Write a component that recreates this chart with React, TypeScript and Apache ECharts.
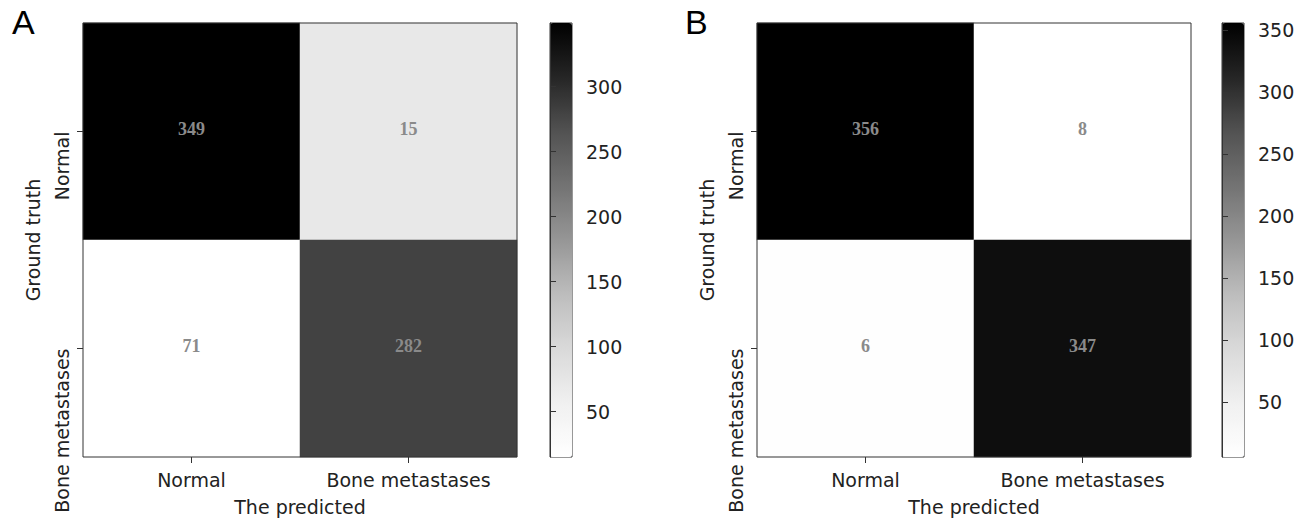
import React, { useEffect, useRef } from "react";
import * as echarts from "echarts";

// Categories (rows = ground truth, columns = predicted)
const categories: string[] = ["Normal", "Bone metastases"];

// Panel A: counts shown in cells
const countsA: number[][] = [
  [349, 15],
  [71, 282],
];
// Panel A: shade of each cell (on the colorbar's scale)
const shadeA: number[][] = [
  [349, 71],
  [15, 280],
];

// Panel B
const countsB: number[][] = [
  [356, 8],
  [6, 347],
];
const shadeB: number[][] = [
  [356, 6],
  [8, 340],
];

// Colorbar ranges and ticks
const rangeA: [number, number] = [15, 349];
const rangeB: [number, number] = [6, 356];
const ticksA: number[] = [50, 100, 150, 200, 250, 300];
const ticksB: number[] = [50, 100, 150, 200, 250, 300, 350];

const greys = [
  "#ffffff",
  "#f0f0f0",
  "#d9d9d9",
  "#bdbdbd",
  "#969696",
  "#737373",
  "#525252",
  "#252525",
  "#000000",
];

const FONT = "DejaVu Sans";
const TEXT_COLOR = "#222222";

function cells(counts: number[][], shade: number[][]) {
  const out: number[][] = [];
  for (let r = 0; r < counts.length; r++) {
    for (let c = 0; c < counts[r].length; c++) {
      out.push([c, r, counts[r][c], shade[r][c]]);
    }
  }
  return out;
}

export default function App() {
  const ref = useRef<HTMLDivElement>(null);

  useEffect(() => {
    if (!ref.current) return;
    const chart = echarts.init(ref.current, undefined, { renderer: "svg" });

    const heatGrid = (left: number) => ({
      left,
      top: 23,
      width: 434,
      height: 434,
      show: true,
      z: 3,
      outerBoundsMode: "none",
      containLabel: false,
      backgroundColor: "transparent",
      borderColor: "#333333",
      borderWidth: 1,
    });
    const barGrid = (left: number) => ({
      left,
      top: 23,
      width: 22,
      height: 434,
      show: true,
      z: 3,
      outerBoundsMode: "none",
      containLabel: false,
      backgroundColor: "transparent",
      borderColor: "#333333",
      borderWidth: 1,
    });

    const catX = (gridIndex: number) => ({
      type: "category",
      gridIndex,
      data: categories,
      z: 4,
      axisLine: { show: false },
      axisTick: { show: true, alignWithLabel: true, length: 6, lineStyle: { color: "#333" } },
      axisLabel: { fontSize: 19, color: TEXT_COLOR, fontFamily: FONT, margin: 13 },
      splitLine: { show: false },
      name: "The predicted",
      nameLocation: "middle",
      nameGap: 40,
      nameTextStyle: { fontSize: 19, color: TEXT_COLOR, fontFamily: FONT },
    });
    const catY = (gridIndex: number) => ({
      type: "category",
      gridIndex,
      data: categories,
      inverse: true,
      z: 4,
      axisLine: { show: false },
      axisTick: { show: true, alignWithLabel: true, length: 6, lineStyle: { color: "#333" } },
      axisLabel: {
        fontSize: 19,
        color: TEXT_COLOR,
        fontFamily: FONT,
        rotate: 90,
        align: "right",
        verticalAlign: "bottom",
        margin: 12,
        hideOverlap: false,
      },
      splitLine: { show: false },
      name: "Ground truth",
      nameLocation: "middle",
      nameRotate: 90,
      nameGap: 41,
      nameTextStyle: { fontSize: 19, color: TEXT_COLOR, fontFamily: FONT },
    });
    const barX = (gridIndex: number) => ({
      type: "value",
      gridIndex,
      show: false,
      min: 0,
      max: 1,
    });
    const barY = (gridIndex: number, range: [number, number], ticks: number[]) => ({
      type: "value",
      gridIndex,
      position: "right",
      min: range[0],
      max: range[1],
      z: 4,
      axisLine: { show: true, lineStyle: { color: "#333", width: 1 } },
      splitLine: { show: false },
      axisTick: {
        show: true,
        inside: false,
        length: 6,
        customValues: ticks,
        lineStyle: { color: "#333", width: 1 },
      },
      axisLabel: {
        show: true,
        customValues: ticks,
        fontSize: 19,
        color: TEXT_COLOR,
        fontFamily: FONT,
        margin: 14,
      },
    });

    const cellLabel = {
      show: true,
      formatter: (p: any) => String(p.value[2]),
      fontFamily: "Liberation Serif",
      fontWeight: "bold",
      fontSize: 18,
      color: "#8a8a8a",
      offset: [0, -3],
    };

    const option: any = {
      animation: false,
      backgroundColor: "#ffffff",
      textStyle: { fontFamily: FONT },
      grid: [heatGrid(83), barGrid(550), heatGrid(757), barGrid(1222)],
      xAxis: [catX(0), barX(1), catX(2), barX(3)],
      yAxis: [catY(0), barY(1, rangeA, ticksA), catY(2), barY(3, rangeB, ticksB)],
      visualMap: [
        {
          type: "continuous",
          seriesIndex: 0,
          dimension: 3,
          min: rangeA[0],
          max: rangeA[1],
          inRange: { color: greys },
          left: 550,
          top: 23,
          itemWidth: 22,
          itemHeight: 434,
          padding: 0,
          calculable: false,
          realtime: false,
          hoverLink: false,
        },
        {
          type: "continuous",
          seriesIndex: 1,
          dimension: 3,
          min: rangeB[0],
          max: rangeB[1],
          inRange: { color: greys },
          left: 1222,
          top: 23,
          itemWidth: 22,
          itemHeight: 434,
          padding: 0,
          calculable: false,
          realtime: false,
          hoverLink: false,
        },
      ],
      series: [
        {
          type: "heatmap",
          xAxisIndex: 0,
          yAxisIndex: 0,
          data: cells(countsA, shadeA),
          label: cellLabel,
          itemStyle: { borderWidth: 0 },
          emphasis: { disabled: true },
        },
        {
          type: "heatmap",
          xAxisIndex: 2,
          yAxisIndex: 2,
          data: cells(countsB, shadeB),
          label: cellLabel,
          itemStyle: { borderWidth: 0 },
          emphasis: { disabled: true },
        },
      ],
      graphic: [
        {
          type: "text",
          left: 12,
          top: 5,
          style: { text: "A", fontSize: 34, fontFamily: "Liberation Sans", fill: "#000" },
        },
        {
          type: "text",
          left: 685,
          top: 5,
          style: { text: "B", fontSize: 34, fontFamily: "Liberation Sans", fill: "#000" },
        },
      ],
    };

    chart.setOption(option);
    return () => {
      chart.dispose();
    };
  }, []);

  return (
    <div
      ref={ref}
      style={{ position: "absolute", left: 0, top: 0, width: 1311, height: 518 }}
    />
  );
}
